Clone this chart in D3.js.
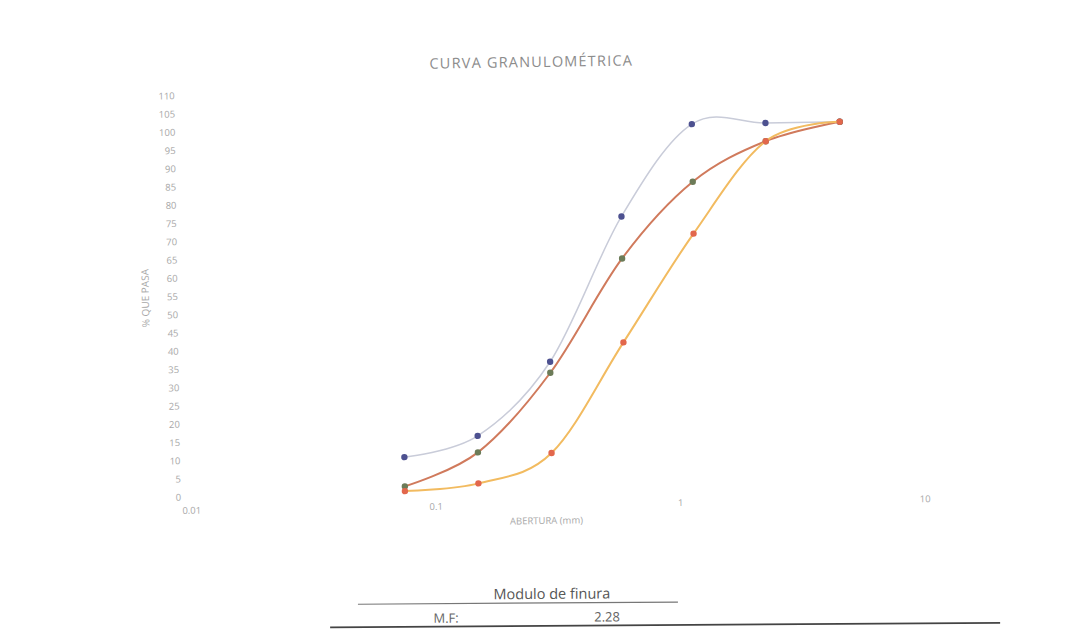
<!DOCTYPE html>
<html>
<head>
<meta charset="utf-8">
<script src="https://cdn.jsdelivr.net/npm/d3@7"></script>
<style>
  html, body { margin: 0; padding: 0; background: #ffffff; }
  svg { display: block; }
</style>
</head>
<body>
<svg id="chart" width="1065" height="642"></svg>
<script>
// Sieve openings (mm)
const aberturas = [0.075, 0.15, 0.3, 0.6, 1.18, 2.36, 4.75];

// % passing for each series
const limiteSuperior = [10, 15.5, 35.5, 75, 100, 100, 100];
const muestra        = [2, 11, 32.5, 63.5, 84.2, 95, 100];
const limiteInferior = [0.7, 2.5, 10.5, 40.5, 70, 95, 100];

// Axis ticks
const yTicks = d3.range(0, 111, 5);
const xTicks = [0.01, 0.1, 1, 10];
const xTickLabels = ["0.01", "0.1", "1", "10"];

// Summary table
const tablaTitulo = "Modulo de finura";
const tablaEtiqueta = "M.F:";
const moduloFinura = "2.28";

const svg = d3.select("#chart");
const font = "'Open Sans', 'Liberation Sans', sans-serif";

const x = d3.scaleLog().domain([0.01, 10]).range([188, 921.5]);
const y = d3.scaleLinear().domain([0, 110]).range([491.5, 90]);

// the printed sheet sits slightly tilted
const g = svg.append("g").attr("transform", "rotate(-0.9, 540, 300)");

g.append("text")
  .attr("x", 535).attr("y", 67)
  .attr("text-anchor", "middle")
  .attr("font-family", font)
  .attr("font-size", 14.5)
  .attr("letter-spacing", 1.2)
  .attr("fill", "#8c8c8c")
  .text("CURVA GRANULOMÉTRICA");

// Y axis
const yAxis = g.append("g")
  .attr("transform", `translate(${x(0.01)},0)`)
  .call(d3.axisLeft(y).tickValues(yTicks).tickSize(0).tickPadding(10));
yAxis.select(".domain").remove();
yAxis.selectAll("text")
  .attr("font-family", font).attr("font-size", 9.5).attr("fill", "#a8a8a8");

// X axis
const xAxis = g.append("g")
  .attr("transform", `translate(0,${y(0)})`)
  .call(d3.axisBottom(x).tickValues(xTicks)
    .tickFormat((d, i) => xTickLabels[i]).tickSize(0).tickPadding(10));
xAxis.select(".domain").remove();
xAxis.selectAll("text")
  .attr("font-family", font).attr("font-size", 9.5).attr("fill", "#a8a8a8");

g.append("text")
  .attr("transform", "translate(149,292) rotate(-90)")
  .attr("text-anchor", "middle")
  .attr("font-family", font).attr("font-size", 10).attr("fill", "#a8a8a8")
  .text("% QUE PASA");

g.append("text")
  .attr("x", 543).attr("y", 524)
  .attr("text-anchor", "middle")
  .attr("font-family", font).attr("font-size", 9.5).attr("fill", "#a8a8a8")
  .text("ABERTURA (mm)");

// Series
const series = [
  { values: limiteSuperior, line: "#c9ccd9", width: 1.5, marker: "#4d5190" },
  { values: muestra,        line: "#d07a5c", width: 2,   marker: "#6c7b58" },
  { values: limiteInferior, line: "#f2bb60", width: 2,   marker: "#e2674c" }
];

const line = d3.line()
  .x(d => x(d[0]))
  .y(d => y(d[1]))
  .curve(d3.curveCardinal.tension(0));

series.forEach(s => {
  const pts = aberturas.map((a, i) => [a, s.values[i]]);
  const sg = g.append("g");
  sg.append("path")
    .datum(pts)
    .attr("d", line)
    .attr("fill", "none")
    .attr("stroke", s.line)
    .attr("stroke-width", s.width)
    .attr("stroke-linecap", "round");
  sg.selectAll("circle")
    .data(pts)
    .join("circle")
    .attr("cx", d => x(d[0]))
    .attr("cy", d => y(d[1]))
    .attr("r", 3.2)
    .attr("fill", s.marker);
});

// Summary table
const t = svg.append("g").attr("transform", "rotate(-0.4, 540, 610)");
t.append("text")
  .attr("x", 552).attr("y", 599)
  .attr("text-anchor", "middle")
  .attr("font-family", font).attr("font-size", 14.5).attr("fill", "#555")
  .text(tablaTitulo);
t.append("line")
  .attr("x1", 358).attr("x2", 678).attr("y1", 603).attr("y2", 603)
  .attr("stroke", "#777").attr("stroke-width", 1.2);
t.append("text")
  .attr("x", 446).attr("y", 622)
  .attr("text-anchor", "middle")
  .attr("font-family", font).attr("font-size", 13).attr("fill", "#666")
  .text(tablaEtiqueta);
t.append("text")
  .attr("x", 607).attr("y", 622)
  .attr("text-anchor", "middle")
  .attr("font-family", font).attr("font-size", 13).attr("fill", "#666")
  .text(moduloFinura);
t.append("line")
  .attr("x1", 330).attr("x2", 1000).attr("y1", 626).attr("y2", 626)
  .attr("stroke", "#444").attr("stroke-width", 1.8);
</script>
</body>
</html>
